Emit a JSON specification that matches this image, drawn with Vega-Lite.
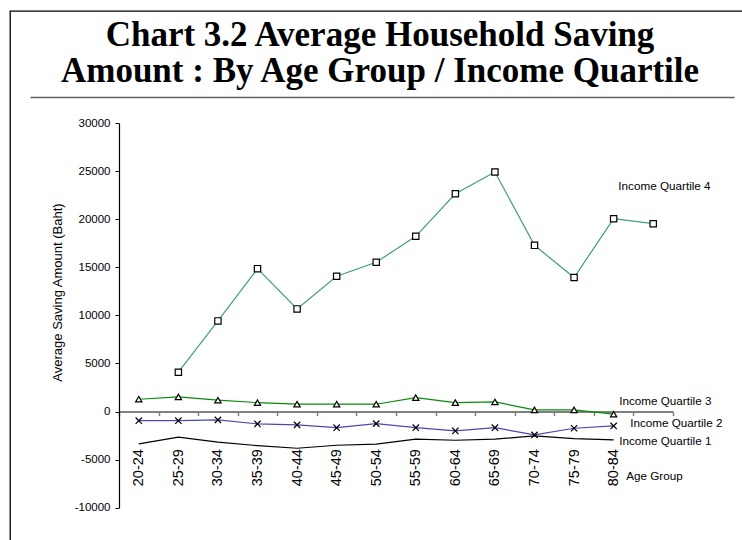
{
  "$schema": "https://vega.github.io/schema/vega-lite/v6.json",
  "width": 740,
  "height": 540,
  "autosize": {"type": "none"},
  "padding": {"left": 10, "top": 11, "right": 0, "bottom": 0},
  "background": "white",
  "config": {
    "view": {"stroke": "#000000", "strokeWidth": 1.3, "fill": "white"},
    "font": "Liberation Sans"
  },
  "title": {
    "text": ["Chart 3.2  Average Household Saving", "Amount : By Age Group / Income Quartile"],
    "font": "Liberation Serif",
    "fontSize": 35,
    "fontWeight": "bold",
    "color": "#000000",
    "lineHeight": 36,
    "anchor": "middle",
    "frame": "group",
    "baseline": "bottom",
    "offset": -113
  },
  "datasets": {
    "saving": [
      {"age": "20-24", "series": "Income Quartile 1", "value": -3370},
      {"age": "25-29", "series": "Income Quartile 1", "value": -2670},
      {"age": "30-34", "series": "Income Quartile 1", "value": -3190},
      {"age": "35-39", "series": "Income Quartile 1", "value": -3550},
      {"age": "40-44", "series": "Income Quartile 1", "value": -3820},
      {"age": "45-49", "series": "Income Quartile 1", "value": -3510},
      {"age": "50-54", "series": "Income Quartile 1", "value": -3400},
      {"age": "55-59", "series": "Income Quartile 1", "value": -2880},
      {"age": "60-64", "series": "Income Quartile 1", "value": -2990},
      {"age": "65-69", "series": "Income Quartile 1", "value": -2880},
      {"age": "70-74", "series": "Income Quartile 1", "value": -2540},
      {"age": "75-79", "series": "Income Quartile 1", "value": -2820},
      {"age": "80-84", "series": "Income Quartile 1", "value": -2960},
      {"age": "20-24", "series": "Income Quartile 2", "value": -950},
      {"age": "25-29", "series": "Income Quartile 2", "value": -950},
      {"age": "30-34", "series": "Income Quartile 2", "value": -870},
      {"age": "35-39", "series": "Income Quartile 2", "value": -1290},
      {"age": "40-44", "series": "Income Quartile 2", "value": -1390},
      {"age": "45-49", "series": "Income Quartile 2", "value": -1680},
      {"age": "50-54", "series": "Income Quartile 2", "value": -1260},
      {"age": "55-59", "series": "Income Quartile 2", "value": -1680},
      {"age": "60-64", "series": "Income Quartile 2", "value": -2020},
      {"age": "65-69", "series": "Income Quartile 2", "value": -1680},
      {"age": "70-74", "series": "Income Quartile 2", "value": -2430},
      {"age": "75-79", "series": "Income Quartile 2", "value": -1740},
      {"age": "80-84", "series": "Income Quartile 2", "value": -1500},
      {"age": "20-24", "series": "Income Quartile 3", "value": 1280},
      {"age": "25-29", "series": "Income Quartile 3", "value": 1520},
      {"age": "30-34", "series": "Income Quartile 3", "value": 1180},
      {"age": "35-39", "series": "Income Quartile 3", "value": 930},
      {"age": "40-44", "series": "Income Quartile 3", "value": 760},
      {"age": "45-49", "series": "Income Quartile 3", "value": 760},
      {"age": "50-54", "series": "Income Quartile 3", "value": 760},
      {"age": "55-59", "series": "Income Quartile 3", "value": 1450},
      {"age": "60-64", "series": "Income Quartile 3", "value": 930},
      {"age": "65-69", "series": "Income Quartile 3", "value": 1000},
      {"age": "70-74", "series": "Income Quartile 3", "value": 170},
      {"age": "75-79", "series": "Income Quartile 3", "value": 170},
      {"age": "80-84", "series": "Income Quartile 3", "value": -280},
      {"age": "25-29", "series": "Income Quartile 4", "value": 4090},
      {"age": "30-34", "series": "Income Quartile 4", "value": 9430},
      {"age": "35-39", "series": "Income Quartile 4", "value": 14870},
      {"age": "40-44", "series": "Income Quartile 4", "value": 10680},
      {"age": "45-49", "series": "Income Quartile 4", "value": 14080},
      {"age": "50-54", "series": "Income Quartile 4", "value": 15540},
      {"age": "55-59", "series": "Income Quartile 4", "value": 18240},
      {"age": "60-64", "series": "Income Quartile 4", "value": 22670},
      {"age": "65-69", "series": "Income Quartile 4", "value": 24930},
      {"age": "70-74", "series": "Income Quartile 4", "value": 17300},
      {"age": "75-79", "series": "Income Quartile 4", "value": 13950},
      {"age": "80-84", "series": "Income Quartile 4", "value": 20070},
      {"age": "85+", "series": "Income Quartile 4", "value": 19550}
    ]
  },
  "layer": [
    {
      "data": {"name": "saving"},
      "encoding": {
        "x": {
          "field": "age",
          "type": "ordinal",
          "bandPosition": 0.5,
          "scale": {
            "type": "band",
            "domain": ["20-24", "25-29", "30-34", "35-39", "40-44", "45-49", "50-54", "55-59", "60-64", "65-69", "70-74", "75-79", "80-84", "85+"],
            "range": [109, 663],
            "paddingInner": 0,
            "paddingOuter": 0
          },
          "axis": {
            "orient": "bottom",
            "offset": -139.4,
            "tickBand": "extent",
            "grid": false,
            "domainColor": "#808080",
            "domainWidth": 2,
            "tickColor": "#808080",
            "tickSize": 4,
            "tickWidth": 1.5,
            "labelAngle": -90,
            "labelAlign": "right",
            "labelBaseline": "middle",
            "labelFont": "Liberation Sans",
            "labelFontSize": 14.5,
            "labelColor": "#000000",
            "labelPadding": 33,
            "labelOverlap": false,
            "labelExpr": "datum.value == '85+' ? '' : datum.label",
            "title": "Age Group",
            "titleFont": "Liberation Sans",
            "titleFontSize": 11.7,
            "titleFontWeight": "normal",
            "titleColor": "#000000",
            "titleX": 615.7,
            "titleY": 63.4,
            "titleAlign": "left",
            "titleBaseline": "middle",
            "titleAngle": 0
          }
        },
        "y": {
          "field": "value",
          "type": "quantitative",
          "scale": {"domain": [-10000, 30000], "range": [496.6, 112.3], "nice": false, "zero": false},
          "axis": {
            "orient": "left",
            "offset": -109,
            "values": [-10000, -5000, 0, 5000, 10000, 15000, 20000, 25000, 30000],
            "labelExpr": "'' + datum.value",
            "grid": false,
            "domainColor": "#000000",
            "domainWidth": 1.2,
            "tickColor": "#000000",
            "tickSize": 4,
            "tickWidth": 1,
            "labelFont": "Liberation Sans",
            "labelFontSize": 11.5,
            "labelColor": "#000000",
            "labelPadding": 5,
            "labelFlush": false,
            "labelOverlap": false,
            "title": "Average Saving Amount (Baht)",
            "titleFont": "Liberation Sans",
            "titleFontSize": 13,
            "titleFontWeight": "normal",
            "titleColor": "#000000",
            "titleX": -62,
            "titleY": 281,
            "titleAngle": -90,
            "titleAlign": "center",
            "titleBaseline": "middle"
          }
        }
      },
      "layer": [
        {
          "mark": {"type": "line", "strokeWidth": 1.2},
          "encoding": {
            "color": {
              "field": "series",
              "type": "nominal",
              "scale": {
                "domain": ["Income Quartile 1", "Income Quartile 2", "Income Quartile 3", "Income Quartile 4"],
                "range": ["#000000", "#4848b0", "#0a8a0a", "#40a070"]
              },
              "legend": null
            }
          }
        },
        {
          "transform": [{"filter": "datum.series != 'Income Quartile 1'"}],
          "mark": {"type": "point", "filled": true, "fill": "white", "stroke": "#000000", "strokeWidth": 1.2, "opacity": 1, "size": 40},
          "encoding": {
            "shape": {
              "field": "series",
              "type": "nominal",
              "scale": {
                "domain": ["Income Quartile 2", "Income Quartile 3", "Income Quartile 4"],
                "range": ["M-1,-1L1,1M-1,1L1,-1", "triangle-up", "square"]
              },
              "legend": null
            }
          }
        },
        {
          "transform": [{"filter": "datum.series == 'Income Quartile 4' && datum.age == '80-84'"}],
          "mark": {"type": "text", "align": "left", "baseline": "middle", "dx": 4.7, "dy": -32.7, "font": "Liberation Sans", "fontSize": 11.7, "color": "#000000"},
          "encoding": {"text": {"field": "series"}}
        },
        {
          "transform": [{"filter": "datum.series == 'Income Quartile 3' && datum.age == '80-84'"}],
          "mark": {"type": "text", "align": "left", "baseline": "middle", "dx": 5.5, "dy": -13.6, "font": "Liberation Sans", "fontSize": 11.7, "color": "#000000"},
          "encoding": {"text": {"field": "series"}}
        },
        {
          "transform": [{"filter": "datum.series == 'Income Quartile 2' && datum.age == '80-84'"}],
          "mark": {"type": "text", "align": "left", "baseline": "middle", "dx": 16.5, "dy": -2.7, "font": "Liberation Sans", "fontSize": 11.7, "color": "#000000"},
          "encoding": {"text": {"field": "series"}}
        },
        {
          "transform": [{"filter": "datum.series == 'Income Quartile 1' && datum.age == '80-84'"}],
          "mark": {"type": "text", "align": "left", "baseline": "middle", "dx": 5.5, "dy": 1, "font": "Liberation Sans", "fontSize": 11.7, "color": "#000000"},
          "encoding": {"text": {"field": "series"}}
        }
      ]
    },
    {
      "data": {"values": [{"t": 0}, {"t": 1}]},
      "mark": {"type": "point", "opacity": 0},
      "encoding": {
        "x": {
          "field": "t",
          "type": "quantitative",
          "scale": {"domain": [0, 1], "range": [20, 724], "nice": false, "zero": false},
          "axis": {
            "orient": "top",
            "offset": -86,
            "ticks": false,
            "labels": false,
            "title": null,
            "grid": false,
            "domainColor": "#606060",
            "domainWidth": 1.5
          }
        }
      }
    }
  ],
  "resolve": {"scale": {"x": "independent"}, "axis": {"x": "independent"}}
}
